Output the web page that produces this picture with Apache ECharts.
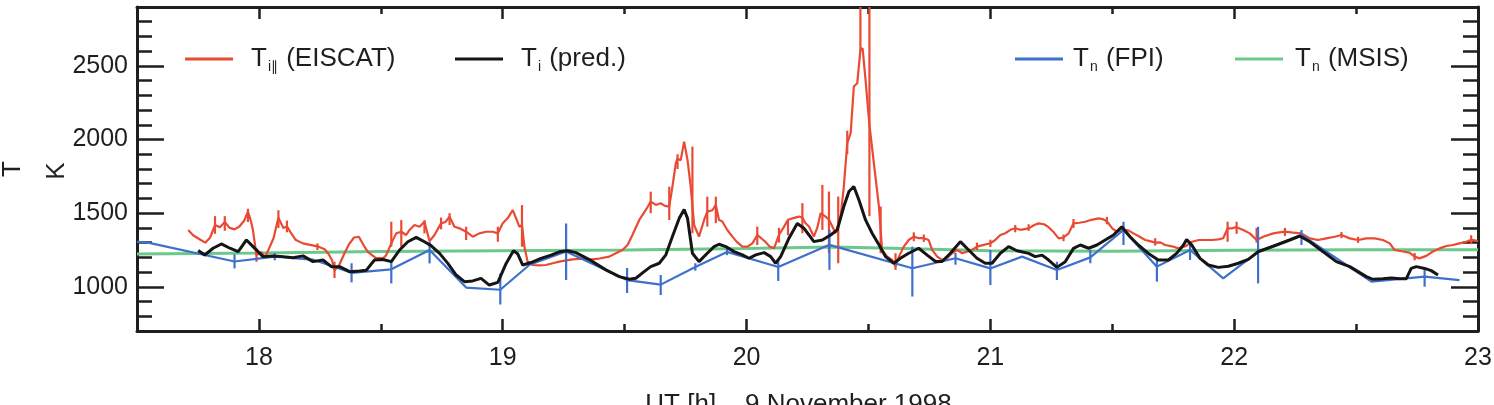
<!DOCTYPE html>
<html>
<head>
<meta charset="utf-8">
<script src="https://cdn.jsdelivr.net/npm/echarts@6/dist/echarts.min.js"></script>
<style>
  html, body { margin: 0; background: #fff; }
  #chart { width: 1494px; height: 405px; }
</style>
</head>
<body>
<div id="chart"></div>
<script>
// tick labels
const xTicks = [18, 19, 20, 21, 22, 23]
const yTicks = [1000, 1500, 2000, 2500]

// Ti parallel (EISCAT) [UT hour, K]
const eiscat = [
  [17.71, 1385], [17.73, 1350], [17.76, 1320], [17.78, 1300], [17.80, 1335], [17.82, 1420],
  [17.84, 1405], [17.86, 1440], [17.88, 1400], [17.90, 1390], [17.92, 1410], [17.94, 1450],
  [17.955, 1510], [17.965, 1460], [17.975, 1390], [17.99, 1215], [18.01, 1235], [18.025, 1200],
  [18.04, 1255], [18.06, 1330], [18.08, 1470], [18.10, 1400], [18.115, 1410], [18.13, 1370],
  [18.15, 1320], [18.18, 1295], [18.21, 1285], [18.24, 1275], [18.27, 1255], [18.285, 1225],
  [18.30, 1180], [18.31, 1110], [18.33, 1150], [18.35, 1225], [18.37, 1290], [18.39, 1335],
  [18.41, 1340], [18.43, 1280], [18.447, 1238], [18.48, 1195], [18.51, 1195], [18.522, 1215],
  [18.543, 1295], [18.563, 1363], [18.584, 1374], [18.604, 1352], [18.618, 1386], [18.638, 1420],
  [18.659, 1408], [18.679, 1442], [18.70, 1310], [18.72, 1352], [18.747, 1431], [18.765, 1440],
  [18.782, 1476], [18.802, 1408], [18.823, 1397], [18.85, 1374], [18.877, 1340], [18.904, 1363],
  [18.932, 1374], [18.959, 1374], [18.98, 1363], [19.00, 1431], [19.02, 1465], [19.041, 1521],
  [19.055, 1465], [19.068, 1408], [19.079, 1420], [19.089, 1272], [19.102, 1171], [19.123, 1148],
  [19.15, 1145], [19.177, 1148], [19.205, 1160], [19.232, 1171], [19.26, 1180], [19.287, 1186],
  [19.32, 1192], [19.355, 1185], [19.396, 1192], [19.437, 1205], [19.464, 1228], [19.491, 1250],
  [19.512, 1284], [19.532, 1352], [19.56, 1454], [19.587, 1522], [19.607, 1579], [19.628, 1556],
  [19.648, 1567], [19.665, 1550], [19.683, 1545], [19.696, 1680], [19.71, 1839], [19.717, 1870],
  [19.73, 1860], [19.744, 1986], [19.758, 1860], [19.771, 1680], [19.785, 1420], [19.805, 1341],
  [19.826, 1454], [19.839, 1511], [19.86, 1520], [19.874, 1556], [19.887, 1454], [19.90, 1445],
  [19.921, 1386], [19.942, 1341], [19.96, 1305], [19.983, 1273], [20.004, 1273], [20.024, 1295],
  [20.044, 1352], [20.06, 1330], [20.078, 1305], [20.095, 1273], [20.113, 1262], [20.133, 1352],
  [20.154, 1409], [20.17, 1455], [20.188, 1465], [20.215, 1477], [20.229, 1470], [20.242, 1432],
  [20.256, 1410], [20.276, 1341], [20.29, 1400], [20.304, 1500], [20.324, 1477], [20.338, 1455],
  [20.352, 1410], [20.365, 1364], [20.386, 1480], [20.399, 1681], [20.413, 1975], [20.427, 2043],
  [20.44, 2360], [20.454, 2382], [20.467, 2609], [20.476, 2620], [20.488, 2405], [20.504, 2100],
  [20.525, 1800], [20.543, 1545], [20.556, 1251], [20.577, 1205], [20.597, 1183], [20.611, 1138],
  [20.625, 1205], [20.645, 1273], [20.665, 1318], [20.686, 1341], [20.706, 1330], [20.727, 1330],
  [20.747, 1318], [20.761, 1251], [20.782, 1205], [20.802, 1183], [20.822, 1194], [20.843, 1228],
  [20.864, 1251], [20.884, 1228], [20.904, 1239], [20.925, 1251], [20.945, 1273], [20.973, 1285],
  [21.00, 1296], [21.02, 1318], [21.041, 1352], [21.061, 1364], [21.082, 1387], [21.102, 1398],
  [21.123, 1387], [21.157, 1397], [21.18, 1420], [21.198, 1431], [21.22, 1425], [21.239, 1405],
  [21.26, 1370], [21.28, 1329], [21.30, 1335], [21.321, 1363], [21.341, 1431], [21.365, 1435],
  [21.389, 1442], [21.415, 1455], [21.444, 1465], [21.46, 1460], [21.478, 1445], [21.50, 1397],
  [21.519, 1374], [21.54, 1385], [21.566, 1383], [21.587, 1363], [21.607, 1345], [21.635, 1318],
  [21.655, 1310], [21.676, 1300], [21.697, 1302], [21.717, 1284], [21.745, 1275], [21.771, 1261],
  [21.80, 1275], [21.826, 1306], [21.855, 1318], [21.88, 1318], [21.91, 1318], [21.935, 1322],
  [21.955, 1330], [21.973, 1397], [21.99, 1397], [22.01, 1405], [22.037, 1386], [22.064, 1363],
  [22.092, 1318], [22.119, 1340], [22.16, 1363], [22.185, 1370], [22.208, 1375], [22.242, 1368],
  [22.276, 1363], [22.31, 1329], [22.344, 1318], [22.378, 1329], [22.412, 1340], [22.44, 1352],
  [22.474, 1329], [22.508, 1318], [22.542, 1329], [22.576, 1329], [22.61, 1318], [22.638, 1295],
  [22.658, 1250], [22.692, 1240], [22.719, 1232], [22.74, 1205], [22.76, 1193], [22.788, 1210],
  [22.815, 1240], [22.842, 1261], [22.87, 1277], [22.897, 1284], [22.924, 1295], [22.952, 1306],
  [22.972, 1320], [23.00, 1310]
]

// error bars of EISCAT [UT hour, low, high]
const eiscatErr = [
  [17.82, 1360, 1480], [17.86, 1380, 1480], [17.955, 1440, 1530], [17.99, 1170, 1260],
  [18.08, 1400, 1520], [18.115, 1370, 1450], [18.24, 1250, 1295], [18.31, 1060, 1170],
  [18.543, 1272, 1442], [18.584, 1272, 1453], [18.679, 1363, 1453], [18.747, 1390, 1470],
  [18.782, 1420, 1500], [18.85, 1318, 1408], [18.98, 1306, 1408], [19.079, 1272, 1555],
  [19.607, 1500, 1646], [19.683, 1454, 1680], [19.717, 1800, 1900], [19.778, 1364, 1952],
  [19.839, 1409, 1612], [19.874, 1432, 1612], [20.044, 1284, 1409], [20.133, 1300, 1400],
  [20.17, 1350, 1450], [20.229, 1364, 1568], [20.311, 1387, 1692], [20.338, 1228, 1647],
  [20.376, 1160, 1613], [20.413, 1900, 2060], [20.467, 2600, 3000], [20.504, 1480, 3000],
  [20.55, 1228, 1545], [20.611, 1115, 1228], [20.686, 1310, 1370], [20.727, 1305, 1355],
  [20.945, 1250, 1300], [21.00, 1270, 1320], [21.102, 1370, 1420], [21.157, 1380, 1425],
  [21.30, 1310, 1355], [21.341, 1400, 1460], [21.478, 1425, 1475], [21.676, 1280, 1330],
  [21.973, 1306, 1442], [22.01, 1360, 1442], [22.092, 1300, 1400], [22.208, 1345, 1400],
  [22.44, 1330, 1372], [22.508, 1298, 1340], [22.74, 1180, 1230], [22.972, 1290, 1350]
]

// Ti predicted
const predicted = [
  [17.751, 1246], [17.778, 1216], [17.812, 1262], [17.846, 1291], [17.881, 1262], [17.915, 1239],
  [17.949, 1318], [17.976, 1273], [18.017, 1205], [18.058, 1210], [18.099, 1205], [18.14, 1198],
  [18.181, 1210], [18.222, 1171], [18.263, 1182], [18.297, 1137], [18.331, 1137], [18.372, 1103],
  [18.413, 1108], [18.44, 1112], [18.474, 1182], [18.509, 1185], [18.543, 1171], [18.577, 1250],
  [18.611, 1306], [18.645, 1336], [18.679, 1306], [18.706, 1280], [18.741, 1227], [18.775, 1159],
  [18.809, 1080], [18.843, 1035], [18.877, 1040], [18.911, 1057], [18.945, 1012], [18.98, 1030],
  [19.014, 1159], [19.044, 1245], [19.061, 1225], [19.082, 1148], [19.116, 1165], [19.157, 1193],
  [19.198, 1215], [19.232, 1238], [19.266, 1245], [19.30, 1232], [19.355, 1185], [19.423, 1115],
  [19.478, 1069], [19.519, 1051], [19.546, 1058], [19.58, 1103], [19.607, 1137], [19.642, 1160],
  [19.669, 1217], [19.696, 1341], [19.724, 1465], [19.744, 1525], [19.758, 1465], [19.778, 1228],
  [19.805, 1171], [19.839, 1228], [19.867, 1273], [19.887, 1289], [19.915, 1273], [19.949, 1239],
  [19.983, 1217], [20.01, 1194], [20.038, 1217], [20.072, 1232], [20.099, 1205], [20.119, 1160],
  [20.14, 1205], [20.174, 1330], [20.208, 1430], [20.235, 1398], [20.256, 1352], [20.276, 1307],
  [20.311, 1318], [20.345, 1352], [20.372, 1387], [20.399, 1545], [20.42, 1647], [20.44, 1681],
  [20.461, 1590], [20.488, 1454], [20.515, 1364], [20.543, 1285], [20.57, 1205], [20.604, 1160],
  [20.631, 1194], [20.665, 1228], [20.706, 1262], [20.741, 1215], [20.775, 1172], [20.802, 1172],
  [20.836, 1228], [20.877, 1307], [20.911, 1250], [20.945, 1194], [20.979, 1160], [21.007, 1160],
  [21.041, 1228], [21.075, 1273], [21.109, 1245], [21.157, 1227], [21.184, 1205], [21.212, 1215],
  [21.239, 1182], [21.273, 1132], [21.307, 1170], [21.341, 1261], [21.369, 1284], [21.403, 1262],
  [21.437, 1284], [21.471, 1318], [21.505, 1352], [21.539, 1408], [21.573, 1340], [21.607, 1284],
  [21.648, 1227], [21.689, 1182], [21.73, 1182], [21.764, 1227], [21.792, 1284], [21.805, 1322],
  [21.826, 1284], [21.86, 1193], [21.894, 1148], [21.935, 1132], [21.976, 1140], [22.017, 1160],
  [22.058, 1186], [22.098, 1238], [22.174, 1284], [22.228, 1318], [22.269, 1345], [22.31, 1306],
  [22.365, 1238], [22.419, 1171], [22.474, 1137], [22.508, 1103], [22.542, 1069], [22.569, 1051],
  [22.61, 1055], [22.644, 1060], [22.679, 1055], [22.706, 1055], [22.726, 1125], [22.747, 1137],
  [22.781, 1125], [22.808, 1110], [22.836, 1080]
]

// Tn (FPI)
const fpi = [
  [17.50, 1305], [17.55, 1298], [17.90, 1172], [18.065, 1205], [18.22, 1185], [18.38, 1095],
  [18.543, 1119], [18.70, 1250], [18.85, 995], [18.99, 980], [19.11, 1150], [19.26, 1240],
  [19.51, 1046], [19.648, 1015], [19.79, 1135], [19.92, 1237], [20.13, 1135], [20.34, 1285],
  [20.68, 1126], [20.857, 1194], [21.00, 1125], [21.13, 1205], [21.273, 1114], [21.41, 1200],
  [21.546, 1386], [21.683, 1137], [21.819, 1250], [21.955, 1057], [22.098, 1238], [22.276, 1352],
  [22.563, 1035], [22.781, 1069], [22.924, 1046]
]

const fpiErr = [
  [17.90, 1125, 1220], [18.065, 1180, 1230], [18.38, 1030, 1160], [18.543, 1023, 1182],
  [18.70, 1159, 1306], [18.99, 880, 1090], [19.26, 1046, 1430], [19.51, 958, 1128],
  [19.648, 944, 1080], [19.79, 1110, 1160], [19.92, 1215, 1260], [20.13, 1040, 1175],
  [20.34, 1115, 1386], [20.68, 934, 1273], [20.857, 1150, 1230], [21.00, 1012, 1250],
  [21.273, 1046, 1170], [21.41, 1160, 1250], [21.546, 1284, 1442], [21.683, 1035, 1182],
  [21.819, 1182, 1295], [22.098, 1023, 1408], [22.276, 1284, 1386], [22.781, 1001, 1115]
]

// Tn (MSIS)
const msis = [
  [17.5, 1222], [18.0, 1230], [18.5, 1240], [19.0, 1245], [19.5, 1250], [20.0, 1260],
  [20.35, 1270], [20.6, 1262], [21.0, 1245], [21.5, 1242], [22.0, 1248], [22.5, 1252], [23.0, 1252]
]

const FONT = '"Liberation Sans", Arial, Helvetica, sans-serif'
const INK = '#1f1f1f'
const RED = '#ea4a33'
const BLUE = '#3f70cc'
const GREEN = '#6cc78a'
const BLACK = '#151515'

const isOn = (v, list) => list.some(t => Math.abs(t - v) < 1e-6)

const xAxisDef = (position, major) => ({
  type: 'value', min: 17.5, max: 23, interval: 0.5, position,
  splitLine: { show: false },
  axisLine: { show: !major, onZero: false, lineStyle: { color: INK, width: 3 } },
  axisTick: {
    inside: true, length: major ? 12 : 7,
    customValues: major ? xTicks : undefined,
    lineStyle: { color: INK, width: 2.5 }
  },
  axisLabel: { show: false }
})

const yAxisDef = (position, major) => ({
  type: 'value', min: 700, max: 2900, interval: 100, position,
  splitLine: { show: false },
  axisLine: { show: !major, onZero: false, lineStyle: { color: INK, width: 3 } },
  axisTick: {
    inside: true, length: major ? 27 : 15,
    customValues: major ? yTicks : undefined,
    lineStyle: { color: INK, width: 2.5 }
  },
  axisLabel: { show: false }
})

const xAxes = [xAxisDef('bottom', false), xAxisDef('bottom', true), xAxisDef('top', false), xAxisDef('top', true)]
xAxes[0].axisLabel = {
  show: true, margin: 15, fontSize: 25, fontFamily: FONT, color: INK,
  formatter: v => isOn(v, xTicks) ? String(Math.round(v)) : ''
}
xAxes[0].name = 'UT [h],   9 November 1998'
xAxes[0].nameLocation = 'middle'
xAxes[0].nameGap = 61
xAxes[0].nameTextStyle = { fontSize: 26, fontFamily: FONT, color: INK, padding: [0, 18, 0, 0] }

const yAxes = [yAxisDef('left', false), yAxisDef('left', true), yAxisDef('right', false), yAxisDef('right', true)]
yAxes[0].axisLabel = {
  show: true, margin: 9, fontSize: 25, fontFamily: FONT, color: INK,
  formatter: v => isOn(v, yTicks) ? String(Math.round(v)) : ''
}

const legendItems = [
  { name: 'Ti (EISCAT)', left: 185, pad: 13, sub: 'i\u2225', rest: ' (EISCAT)' },
  { name: 'Ti (pred.)', left: 455, pad: 13, sub: 'i', rest: ' (pred.)' },
  { name: 'Tn (FPI)', left: 1015, pad: 5, sub: 'n', rest: ' (FPI)' },
  { name: 'Tn (MSIS)', left: 1235, pad: 7, sub: 'n', rest: ' (MSIS)' }
]

const legends = legendItems.map(l => ({
  data: [l.name],
  left: l.left,
  top: 46,
  padding: 0,
  icon: 'rect',
  itemWidth: 48,
  itemHeight: 3,
  selectedMode: false,
  formatter: () => '{m0|T}{s|' + l.sub + '}{m|' + l.rest + '}',
  textStyle: {
    rich: {
      m0: { fontSize: 26, fontFamily: FONT, color: INK, lineHeight: 30, padding: [0, 0, 0, l.pad] },
      s: { fontSize: 14, fontFamily: FONT, color: INK, lineHeight: 14, verticalAlign: 'bottom', padding: [0, 1, 0, 1] },
      m: { fontSize: 26, fontFamily: FONT, color: INK, lineHeight: 30 }
    }
  }
}))

const errBar = width => (params, api) => {
  const x = api.value(0)
  const lo = api.coord([x, api.value(1)])
  const hi = api.coord([x, api.value(2)])
  return {
    type: 'line',
    shape: { x1: lo[0], y1: lo[1], x2: hi[0], y2: hi[1] },
    style: { stroke: api.visual('color'), lineWidth: width }
  }
}

const chart = echarts.init(document.getElementById('chart'), null, { renderer: 'canvas' })

chart.setOption({
  animation: false,
  backgroundColor: '#fff',
  grid: { left: 137, right: 16, top: 7, bottom: 74, containLabel: false, outerBoundsMode: 'none' },
  xAxis: xAxes,
  yAxis: yAxes,
  legend: legends,
  graphic: [
    { type: 'text', x: 13, y: 169, rotation: Math.PI / 2,
      style: { text: 'T', fontSize: 26, fontFamily: FONT, fill: INK, align: 'center', verticalAlign: 'middle', textAlign: 'center', textVerticalAlign: 'middle' } },
    { type: 'text', x: 57, y: 171, rotation: Math.PI / 2,
      style: { text: 'K', fontSize: 26, fontFamily: FONT, fill: INK, align: 'center', verticalAlign: 'middle', textAlign: 'center', textVerticalAlign: 'middle' } }
  ],
  series: [
    {
      name: 'Tn (MSIS)', type: 'line', data: msis, symbol: 'none', smooth: false, clip: true, z: 1,
      itemStyle: { color: GREEN }, lineStyle: { color: GREEN, width: 3 }
    },
    {
      name: 'Ti (EISCAT)', type: 'line', data: eiscat, symbol: 'none', smooth: false, clip: true, z: 2,
      itemStyle: { color: RED }, lineStyle: { color: RED, width: 2.2 }
    },
    {
      type: 'custom', data: eiscatErr, renderItem: errBar(2.2), clip: true, z: 2,
      encode: { x: 0, y: [1, 2] }, itemStyle: { color: RED }
    },
    {
      name: 'Tn (FPI)', type: 'line', data: fpi, symbol: 'none', smooth: false, clip: true, z: 3,
      itemStyle: { color: BLUE }, lineStyle: { color: BLUE, width: 2.2 }
    },
    {
      type: 'custom', data: fpiErr, renderItem: errBar(2.2), clip: true, z: 3,
      encode: { x: 0, y: [1, 2] }, itemStyle: { color: BLUE }
    },
    {
      name: 'Ti (pred.)', type: 'line', data: predicted, symbol: 'none', smooth: false, clip: true, z: 4,
      itemStyle: { color: BLACK }, lineStyle: { color: BLACK, width: 3 }
    }
  ]
})
</script>
</body>
</html>
